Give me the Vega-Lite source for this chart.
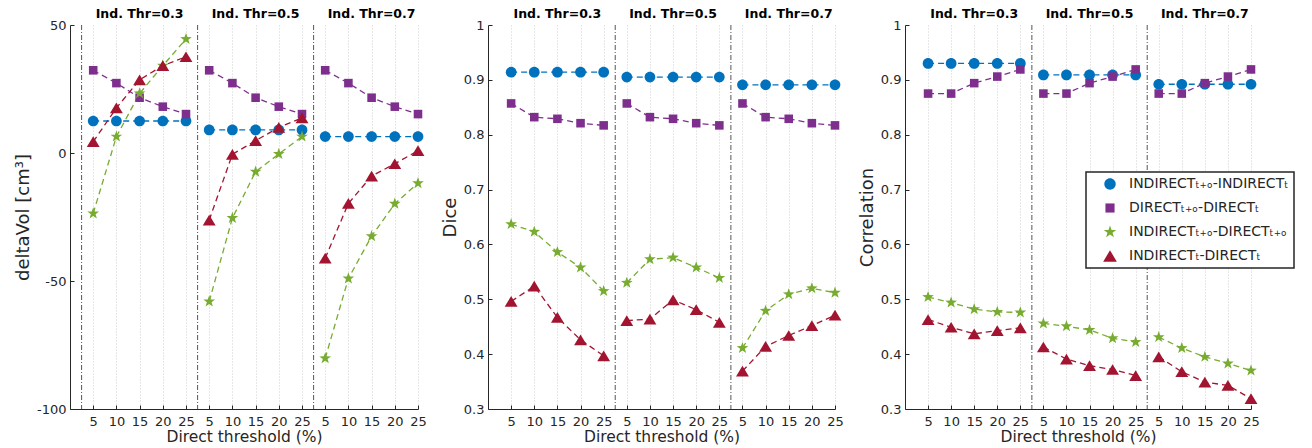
{
  "$schema": "https://vega.github.io/schema/vega-lite/v6.json",
  "padding": {"left": 14, "top": 8, "right": 5, "bottom": 2},
  "autosize": {"type": "pad"},
  "bounds": "flush",
  "spacing": 70,
  "resolve": {"legend": {"color": "independent", "shape": "independent", "stroke": "independent"}},
  "config": {
    "font": "DejaVu Sans",
    "view": {"stroke": null},
    "axis": {"labelColor": "#262626", "labelFontSize": 13, "titleColor": "#262626", "titleFontWeight": "normal", "domainColor": "#262626", "domainWidth": 1, "tickColor": "#262626", "tickSize": -4, "grid": true, "gridColor": "#dcdcdc", "labelOverlap": false, "labelFlush": false, "labelBound": false},
    "axisX": {"titleFontSize": 15.5, "gridDash": [1, 2], "gridColor": "#cfcfcf", "titlePadding": 1, "labelPadding": 10},
    "axisY": {"titleFontSize": 18, "titlePadding": 4, "labelPadding": 8},
    "legend": {"orient": "none", "legendX": 181, "legendY": 147, "fillColor": "white", "strokeColor": "#262626", "strokeWidth": 1.5, "padding": 5, "labelFontSize": 14, "labelColor": "#262626", "labelLimit": 400, "symbolSize": 130, "symbolOffset": 12, "labelOffset": 12, "rowPadding": 10, "title": null}
  },
  "datasets": {
    "groups": [
      {"t": "0.3", "label": "Ind. Thr=0.3"},
      {"t": "0.5", "label": "Ind. Thr=0.5"},
      {"t": "0.7", "label": "Ind. Thr=0.7"}
    ],
    "main": [
      {"m":"dv","t":"0.3","d":5,"s":"A","v":12.5},{"m":"dv","t":"0.3","d":10,"s":"A","v":12.5},{"m":"dv","t":"0.3","d":15,"s":"A","v":12.5},{"m":"dv","t":"0.3","d":20,"s":"A","v":12.5},{"m":"dv","t":"0.3","d":25,"s":"A","v":12.5},
      {"m":"dv","t":"0.3","d":5,"s":"B","v":32.3},{"m":"dv","t":"0.3","d":10,"s":"B","v":27.3},{"m":"dv","t":"0.3","d":15,"s":"B","v":21.6},{"m":"dv","t":"0.3","d":20,"s":"B","v":18.1},{"m":"dv","t":"0.3","d":25,"s":"B","v":15.2},
      {"m":"dv","t":"0.3","d":5,"s":"C","v":-23.6},{"m":"dv","t":"0.3","d":10,"s":"C","v":6.4},{"m":"dv","t":"0.3","d":15,"s":"C","v":23.3},{"m":"dv","t":"0.3","d":20,"s":"C","v":34.1},{"m":"dv","t":"0.3","d":25,"s":"C","v":44.5},
      {"m":"dv","t":"0.3","d":5,"s":"D","v":4.4},{"m":"dv","t":"0.3","d":10,"s":"D","v":17.6},{"m":"dv","t":"0.3","d":15,"s":"D","v":28.6},{"m":"dv","t":"0.3","d":20,"s":"D","v":34.1},{"m":"dv","t":"0.3","d":25,"s":"D","v":37.6},
      {"m":"dv","t":"0.5","d":5,"s":"A","v":9},{"m":"dv","t":"0.5","d":10,"s":"A","v":9},{"m":"dv","t":"0.5","d":15,"s":"A","v":9},{"m":"dv","t":"0.5","d":20,"s":"A","v":9},{"m":"dv","t":"0.5","d":25,"s":"A","v":9},
      {"m":"dv","t":"0.5","d":5,"s":"B","v":32.3},{"m":"dv","t":"0.5","d":10,"s":"B","v":27.3},{"m":"dv","t":"0.5","d":15,"s":"B","v":21.6},{"m":"dv","t":"0.5","d":20,"s":"B","v":18.1},{"m":"dv","t":"0.5","d":25,"s":"B","v":15.2},
      {"m":"dv","t":"0.5","d":5,"s":"C","v":-58},{"m":"dv","t":"0.5","d":10,"s":"C","v":-25.4},{"m":"dv","t":"0.5","d":15,"s":"C","v":-7.3},{"m":"dv","t":"0.5","d":20,"s":"C","v":-0.4},{"m":"dv","t":"0.5","d":25,"s":"C","v":6.4},
      {"m":"dv","t":"0.5","d":5,"s":"D","v":-26.2},{"m":"dv","t":"0.5","d":10,"s":"D","v":-0.5},{"m":"dv","t":"0.5","d":15,"s":"D","v":4.8},{"m":"dv","t":"0.5","d":20,"s":"D","v":10},{"m":"dv","t":"0.5","d":25,"s":"D","v":13.7},
      {"m":"dv","t":"0.7","d":5,"s":"A","v":6.4},{"m":"dv","t":"0.7","d":10,"s":"A","v":6.4},{"m":"dv","t":"0.7","d":15,"s":"A","v":6.4},{"m":"dv","t":"0.7","d":20,"s":"A","v":6.4},{"m":"dv","t":"0.7","d":25,"s":"A","v":6.4},
      {"m":"dv","t":"0.7","d":5,"s":"B","v":32.3},{"m":"dv","t":"0.7","d":10,"s":"B","v":27.3},{"m":"dv","t":"0.7","d":15,"s":"B","v":21.6},{"m":"dv","t":"0.7","d":20,"s":"B","v":18.1},{"m":"dv","t":"0.7","d":25,"s":"B","v":15.2},
      {"m":"dv","t":"0.7","d":5,"s":"C","v":-80.2},{"m":"dv","t":"0.7","d":10,"s":"C","v":-49},{"m":"dv","t":"0.7","d":15,"s":"C","v":-32.5},{"m":"dv","t":"0.7","d":20,"s":"C","v":-19.8},{"m":"dv","t":"0.7","d":25,"s":"C","v":-11.8},
      {"m":"dv","t":"0.7","d":5,"s":"D","v":-41.1},{"m":"dv","t":"0.7","d":10,"s":"D","v":-19.7},{"m":"dv","t":"0.7","d":15,"s":"D","v":-9},{"m":"dv","t":"0.7","d":20,"s":"D","v":-4.2},{"m":"dv","t":"0.7","d":25,"s":"D","v":0.9},

      {"m":"dice","t":"0.3","d":5,"s":"A","v":0.914},{"m":"dice","t":"0.3","d":10,"s":"A","v":0.914},{"m":"dice","t":"0.3","d":15,"s":"A","v":0.914},{"m":"dice","t":"0.3","d":20,"s":"A","v":0.914},{"m":"dice","t":"0.3","d":25,"s":"A","v":0.914},
      {"m":"dice","t":"0.3","d":5,"s":"B","v":0.857},{"m":"dice","t":"0.3","d":10,"s":"B","v":0.832},{"m":"dice","t":"0.3","d":15,"s":"B","v":0.829},{"m":"dice","t":"0.3","d":20,"s":"B","v":0.821},{"m":"dice","t":"0.3","d":25,"s":"B","v":0.817},
      {"m":"dice","t":"0.3","d":5,"s":"C","v":0.637},{"m":"dice","t":"0.3","d":10,"s":"C","v":0.623},{"m":"dice","t":"0.3","d":15,"s":"C","v":0.586},{"m":"dice","t":"0.3","d":20,"s":"C","v":0.558},{"m":"dice","t":"0.3","d":25,"s":"C","v":0.515},
      {"m":"dice","t":"0.3","d":5,"s":"D","v":0.496},{"m":"dice","t":"0.3","d":10,"s":"D","v":0.524},{"m":"dice","t":"0.3","d":15,"s":"D","v":0.467},{"m":"dice","t":"0.3","d":20,"s":"D","v":0.426},{"m":"dice","t":"0.3","d":25,"s":"D","v":0.397},
      {"m":"dice","t":"0.5","d":5,"s":"A","v":0.905},{"m":"dice","t":"0.5","d":10,"s":"A","v":0.905},{"m":"dice","t":"0.5","d":15,"s":"A","v":0.905},{"m":"dice","t":"0.5","d":20,"s":"A","v":0.905},{"m":"dice","t":"0.5","d":25,"s":"A","v":0.905},
      {"m":"dice","t":"0.5","d":5,"s":"B","v":0.857},{"m":"dice","t":"0.5","d":10,"s":"B","v":0.832},{"m":"dice","t":"0.5","d":15,"s":"B","v":0.829},{"m":"dice","t":"0.5","d":20,"s":"B","v":0.821},{"m":"dice","t":"0.5","d":25,"s":"B","v":0.817},
      {"m":"dice","t":"0.5","d":5,"s":"C","v":0.530},{"m":"dice","t":"0.5","d":10,"s":"C","v":0.573},{"m":"dice","t":"0.5","d":15,"s":"C","v":0.576},{"m":"dice","t":"0.5","d":20,"s":"C","v":0.558},{"m":"dice","t":"0.5","d":25,"s":"C","v":0.539},
      {"m":"dice","t":"0.5","d":5,"s":"D","v":0.461},{"m":"dice","t":"0.5","d":10,"s":"D","v":0.464},{"m":"dice","t":"0.5","d":15,"s":"D","v":0.499},{"m":"dice","t":"0.5","d":20,"s":"D","v":0.481},{"m":"dice","t":"0.5","d":25,"s":"D","v":0.458},
      {"m":"dice","t":"0.7","d":5,"s":"A","v":0.891},{"m":"dice","t":"0.7","d":10,"s":"A","v":0.891},{"m":"dice","t":"0.7","d":15,"s":"A","v":0.891},{"m":"dice","t":"0.7","d":20,"s":"A","v":0.891},{"m":"dice","t":"0.7","d":25,"s":"A","v":0.891},
      {"m":"dice","t":"0.7","d":5,"s":"B","v":0.857},{"m":"dice","t":"0.7","d":10,"s":"B","v":0.832},{"m":"dice","t":"0.7","d":15,"s":"B","v":0.829},{"m":"dice","t":"0.7","d":20,"s":"B","v":0.821},{"m":"dice","t":"0.7","d":25,"s":"B","v":0.817},
      {"m":"dice","t":"0.7","d":5,"s":"C","v":0.411},{"m":"dice","t":"0.7","d":10,"s":"C","v":0.479},{"m":"dice","t":"0.7","d":15,"s":"C","v":0.509},{"m":"dice","t":"0.7","d":20,"s":"C","v":0.520},{"m":"dice","t":"0.7","d":25,"s":"C","v":0.512},
      {"m":"dice","t":"0.7","d":5,"s":"D","v":0.369},{"m":"dice","t":"0.7","d":10,"s":"D","v":0.414},{"m":"dice","t":"0.7","d":15,"s":"D","v":0.434},{"m":"dice","t":"0.7","d":20,"s":"D","v":0.452},{"m":"dice","t":"0.7","d":25,"s":"D","v":0.471},

      {"m":"corr","t":"0.3","d":5,"s":"A","v":0.930},{"m":"corr","t":"0.3","d":10,"s":"A","v":0.930},{"m":"corr","t":"0.3","d":15,"s":"A","v":0.930},{"m":"corr","t":"0.3","d":20,"s":"A","v":0.930},{"m":"corr","t":"0.3","d":25,"s":"A","v":0.930},
      {"m":"corr","t":"0.3","d":5,"s":"B","v":0.875},{"m":"corr","t":"0.3","d":10,"s":"B","v":0.875},{"m":"corr","t":"0.3","d":15,"s":"B","v":0.894},{"m":"corr","t":"0.3","d":20,"s":"B","v":0.906},{"m":"corr","t":"0.3","d":25,"s":"B","v":0.919},
      {"m":"corr","t":"0.3","d":5,"s":"C","v":0.504},{"m":"corr","t":"0.3","d":10,"s":"C","v":0.494},{"m":"corr","t":"0.3","d":15,"s":"C","v":0.482},{"m":"corr","t":"0.3","d":20,"s":"C","v":0.477},{"m":"corr","t":"0.3","d":25,"s":"C","v":0.476},
      {"m":"corr","t":"0.3","d":5,"s":"D","v":0.463},{"m":"corr","t":"0.3","d":10,"s":"D","v":0.449},{"m":"corr","t":"0.3","d":15,"s":"D","v":0.437},{"m":"corr","t":"0.3","d":20,"s":"D","v":0.443},{"m":"corr","t":"0.3","d":25,"s":"D","v":0.448},
      {"m":"corr","t":"0.5","d":5,"s":"A","v":0.909},{"m":"corr","t":"0.5","d":10,"s":"A","v":0.909},{"m":"corr","t":"0.5","d":15,"s":"A","v":0.909},{"m":"corr","t":"0.5","d":20,"s":"A","v":0.909},{"m":"corr","t":"0.5","d":25,"s":"A","v":0.909},
      {"m":"corr","t":"0.5","d":5,"s":"B","v":0.875},{"m":"corr","t":"0.5","d":10,"s":"B","v":0.875},{"m":"corr","t":"0.5","d":15,"s":"B","v":0.894},{"m":"corr","t":"0.5","d":20,"s":"B","v":0.906},{"m":"corr","t":"0.5","d":25,"s":"B","v":0.919},
      {"m":"corr","t":"0.5","d":5,"s":"C","v":0.456},{"m":"corr","t":"0.5","d":10,"s":"C","v":0.451},{"m":"corr","t":"0.5","d":15,"s":"C","v":0.444},{"m":"corr","t":"0.5","d":20,"s":"C","v":0.429},{"m":"corr","t":"0.5","d":25,"s":"C","v":0.422},
      {"m":"corr","t":"0.5","d":5,"s":"D","v":0.413},{"m":"corr","t":"0.5","d":10,"s":"D","v":0.391},{"m":"corr","t":"0.5","d":15,"s":"D","v":0.379},{"m":"corr","t":"0.5","d":20,"s":"D","v":0.372},{"m":"corr","t":"0.5","d":25,"s":"D","v":0.361},
      {"m":"corr","t":"0.7","d":5,"s":"A","v":0.892},{"m":"corr","t":"0.7","d":10,"s":"A","v":0.892},{"m":"corr","t":"0.7","d":15,"s":"A","v":0.892},{"m":"corr","t":"0.7","d":20,"s":"A","v":0.892},{"m":"corr","t":"0.7","d":25,"s":"A","v":0.892},
      {"m":"corr","t":"0.7","d":5,"s":"B","v":0.875},{"m":"corr","t":"0.7","d":10,"s":"B","v":0.875},{"m":"corr","t":"0.7","d":15,"s":"B","v":0.894},{"m":"corr","t":"0.7","d":20,"s":"B","v":0.906},{"m":"corr","t":"0.7","d":25,"s":"B","v":0.919},
      {"m":"corr","t":"0.7","d":5,"s":"C","v":0.431},{"m":"corr","t":"0.7","d":10,"s":"C","v":0.411},{"m":"corr","t":"0.7","d":15,"s":"C","v":0.395},{"m":"corr","t":"0.7","d":20,"s":"C","v":0.383},{"m":"corr","t":"0.7","d":25,"s":"C","v":0.370},
      {"m":"corr","t":"0.7","d":5,"s":"D","v":0.395},{"m":"corr","t":"0.7","d":10,"s":"D","v":0.368},{"m":"corr","t":"0.7","d":15,"s":"D","v":0.349},{"m":"corr","t":"0.7","d":20,"s":"D","v":0.343},{"m":"corr","t":"0.7","d":25,"s":"D","v":0.319}
    ]
  },
  "hconcat": [
    {
      "width": 348, "height": 384,
      "resolve": {"axis": {"y": "independent"}},
      "encoding": {"x": {"field": "x", "type": "quantitative", "title": "Direct threshold (%)", "scale": {"domain": [0, 15], "nice": false, "zero": false}, "axis": {"values": [1,2,3,4,5,6,7,8,9,10,11,12,13,14,15], "labelOverlap": false, "labelExpr": "'' + (((datum.value - 1) % 5 + 1) * 5)"}}},
      "layer": [
        {"data": {"name": "groups"}, "transform": [{"calculate": "indexof(['0.3','0.5','0.7'], datum.t) * 5 + 0.5", "as": "x"}], "mark": {"type": "rule", "strokeDash": [5, 2, 1, 2], "color": "#555555", "strokeWidth": 1}, "encoding": {}},
        {"data": {"name": "groups"}, "transform": [{"calculate": "indexof(['0.3','0.5','0.7'], datum.t) * 5 + 3", "as": "x"}], "mark": {"type": "text", "fontWeight": "bold", "fontSize": 12.5, "dy": -11, "baseline": "middle", "color": "#000000"}, "encoding": {"y": {"datum": 50, "type": "quantitative", "axis": null}, "text": {"field": "label"}}},
        {"data": {"name": "main"}, "transform": [{"filter": "datum.m === 'dv'"}, {"calculate": "indexof(['0.3','0.5','0.7'], datum.t) * 5 + datum.d / 5", "as": "x"}],
          "mark": {"type": "line", "strokeDash": [6, 4], "strokeWidth": 1.3},
          "encoding": {
            "y": {"field": "v", "type": "quantitative", "title": "deltaVol [cm³]", "scale": {"domain": [-100, 50], "nice": false, "zero": false},
              "axis": {"values": [-100, -50, 0, 50], "labelExpr": "'' + datum.value", "gridColor": "#dcdcdc"}},
            "stroke": {"field": "s", "type": "nominal", "scale": {"domain": ["A","B","C","D"], "range": ["#0072BD","#7E2F8E","#77AC30","#A2142F"]}, "legend": null},
            "detail": {"field": "t"}
          }
        },
        {"data": {"name": "main"}, "transform": [{"filter": "datum.m === 'dv'"}, {"calculate": "indexof(['0.3','0.5','0.7'], datum.t) * 5 + datum.d / 5", "as": "x"}],
          "mark": {"type": "point", "filled": true, "opacity": 1, "size": 115, "strokeWidth": 0},
          "encoding": {
            "y": {"field": "v", "type": "quantitative", "title": null, "scale": {"domain": [-100, 50], "nice": false, "zero": false},
              "axis": {"orient": "right", "values": [-90,-80,-70,-60,-40,-30,-20,-10,10,20,30,40], "labels": false, "ticks": false, "domain": false, "gridDash": [1, 2], "gridColor": "#cccccc"}},
            "color": {"field": "s", "type": "nominal", "scale": {"domain": ["A","B","C","D"], "range": ["#0072BD","#7E2F8E","#77AC30","#A2142F"]}, "legend": null},
            "shape": {"field": "s", "type": "nominal", "legend": null, "scale": {"domain": ["A","B","C","D"], "range": ["M1,0A1,1,0,1,1,-1,0A1,1,0,1,1,1,0Z", "M-0.8,-0.8H0.8V0.8H-0.8Z", "M0,-1.15L0.27,-0.37L1.09,-0.36L0.44,0.14L0.68,0.93L0,0.46L-0.68,0.93L-0.44,0.14L-1.09,-0.36L-0.27,-0.37Z", "M0,-1L1.2,1H-1.2Z"]}}
          }
        }
      ]
    },
    {
      "width": 347, "height": 384,
      "resolve": {"axis": {"y": "independent"}},
      "encoding": {"x": {"field": "x", "type": "quantitative", "title": "Direct threshold (%)", "scale": {"domain": [0, 15], "nice": false, "zero": false}, "axis": {"values": [1,2,3,4,5,6,7,8,9,10,11,12,13,14,15], "labelOverlap": false, "labelExpr": "'' + (((datum.value - 1) % 5 + 1) * 5)"}}},
      "layer": [
        {"data": {"name": "groups"}, "transform": [{"calculate": "indexof(['0.3','0.5','0.7'], datum.t) * 5 + 0.5", "as": "x"}, {"filter": "datum.x > 1"}], "mark": {"type": "rule", "strokeDash": [5, 2, 1, 2], "color": "#555555", "strokeWidth": 1}, "encoding": {}},
        {"data": {"name": "groups"}, "transform": [{"calculate": "indexof(['0.3','0.5','0.7'], datum.t) * 5 + 3", "as": "x"}], "mark": {"type": "text", "fontWeight": "bold", "fontSize": 12.5, "dy": -11, "baseline": "middle", "color": "#000000"}, "encoding": {"y": {"datum": 1, "type": "quantitative", "axis": null}, "text": {"field": "label"}}},
        {"data": {"name": "main"}, "transform": [{"filter": "datum.m === 'dice'"}, {"calculate": "indexof(['0.3','0.5','0.7'], datum.t) * 5 + datum.d / 5", "as": "x"}],
          "mark": {"type": "line", "strokeDash": [6, 4], "strokeWidth": 1.3},
          "encoding": {
            "y": {"field": "v", "type": "quantitative", "title": "Dice", "scale": {"domain": [0.3, 1], "nice": false, "zero": false},
              "axis": {"values": [0.3, 0.4, 0.5, 0.6, 0.7, 0.8, 0.9, 1], "labelExpr": "format(datum.value, '.1~f')", "gridColor": "#dcdcdc"}},
            "stroke": {"field": "s", "type": "nominal", "scale": {"domain": ["A","B","C","D"], "range": ["#0072BD","#7E2F8E","#77AC30","#A2142F"]}, "legend": null},
            "detail": {"field": "t"}
          }
        },
        {"data": {"name": "main"}, "transform": [{"filter": "datum.m === 'dice'"}, {"calculate": "indexof(['0.3','0.5','0.7'], datum.t) * 5 + datum.d / 5", "as": "x"}],
          "mark": {"type": "point", "filled": true, "opacity": 1, "size": 115, "strokeWidth": 0},
          "encoding": {
            "y": {"field": "v", "type": "quantitative", "title": null, "scale": {"domain": [0.3, 1], "nice": false, "zero": false},
              "axis": {"orient": "right", "values": [0.32,0.34,0.36,0.38,0.42,0.44,0.46,0.48,0.52,0.54,0.56,0.58,0.62,0.64,0.66,0.68,0.72,0.74,0.76,0.78,0.82,0.84,0.86,0.88,0.92,0.94,0.96,0.98], "labels": false, "ticks": false, "domain": false, "gridDash": [1, 2], "gridColor": "#cccccc"}},
            "color": {"field": "s", "type": "nominal", "scale": {"domain": ["A","B","C","D"], "range": ["#0072BD","#7E2F8E","#77AC30","#A2142F"]}, "legend": null},
            "shape": {"field": "s", "type": "nominal", "legend": null, "scale": {"domain": ["A","B","C","D"], "range": ["M1,0A1,1,0,1,1,-1,0A1,1,0,1,1,1,0Z", "M-0.8,-0.8H0.8V0.8H-0.8Z", "M0,-1.15L0.27,-0.37L1.09,-0.36L0.44,0.14L0.68,0.93L0,0.46L-0.68,0.93L-0.44,0.14L-1.09,-0.36L-0.27,-0.37Z", "M0,-1L1.2,1H-1.2Z"]}}
          }
        }
      ]
    },
    {
      "width": 346, "height": 384,
      "resolve": {"axis": {"y": "independent"}},
      "encoding": {"x": {"field": "x", "type": "quantitative", "title": "Direct threshold (%)", "scale": {"domain": [0, 15], "nice": false, "zero": false}, "axis": {"values": [1,2,3,4,5,6,7,8,9,10,11,12,13,14,15], "labelOverlap": false, "labelExpr": "'' + (((datum.value - 1) % 5 + 1) * 5)"}}},
      "layer": [
        {"data": {"name": "groups"}, "transform": [{"calculate": "indexof(['0.3','0.5','0.7'], datum.t) * 5 + 0.5", "as": "x"}, {"filter": "datum.x > 1"}], "mark": {"type": "rule", "strokeDash": [5, 2, 1, 2], "color": "#555555", "strokeWidth": 1}, "encoding": {}},
        {"data": {"name": "groups"}, "transform": [{"calculate": "indexof(['0.3','0.5','0.7'], datum.t) * 5 + 3", "as": "x"}], "mark": {"type": "text", "fontWeight": "bold", "fontSize": 12.5, "dy": -11, "baseline": "middle", "color": "#000000"}, "encoding": {"y": {"datum": 1, "type": "quantitative", "axis": null}, "text": {"field": "label"}}},
        {"data": {"name": "main"}, "transform": [{"filter": "datum.m === 'corr'"}, {"calculate": "indexof(['0.3','0.5','0.7'], datum.t) * 5 + datum.d / 5", "as": "x"}, {"calculate": "{'A':'#0072BD','B':'#7E2F8E','C':'#77AC30','D':'#A2142F'}[datum.s]", "as": "col"}],
          "mark": {"type": "line", "strokeDash": [6, 4], "strokeWidth": 1.3},
          "encoding": {
            "y": {"field": "v", "type": "quantitative", "title": "Correlation", "scale": {"domain": [0.3, 1], "nice": false, "zero": false},
              "axis": {"values": [0.3, 0.4, 0.5, 0.6, 0.7, 0.8, 0.9, 1], "labelExpr": "format(datum.value, '.1~f')", "gridColor": "#dcdcdc"}},
            "stroke": {"field": "col", "type": "nominal", "scale": null},
            "detail": {"field": "t"}
          }
        },
        {"data": {"name": "main"}, "transform": [{"filter": "datum.m === 'corr'"}, {"calculate": "indexof(['0.3','0.5','0.7'], datum.t) * 5 + datum.d / 5", "as": "x"}],
          "mark": {"type": "point", "filled": true, "opacity": 1, "size": 115, "strokeWidth": 0},
          "encoding": {
            "y": {"field": "v", "type": "quantitative", "title": null, "scale": {"domain": [0.3, 1], "nice": false, "zero": false},
              "axis": {"orient": "right", "values": [0.32,0.34,0.36,0.38,0.42,0.44,0.46,0.48,0.52,0.54,0.56,0.58,0.62,0.64,0.66,0.68,0.72,0.74,0.76,0.78,0.82,0.84,0.86,0.88,0.92,0.94,0.96,0.98], "labels": false, "ticks": false, "domain": false, "gridDash": [1, 2], "gridColor": "#cccccc"}},
            "color": {"field": "s", "type": "nominal", "scale": {"domain": ["A","B","C","D"], "range": ["#0072BD","#7E2F8E","#77AC30","#A2142F"]},
              "legend": {"labelExpr": "{'A':'INDIRECTₜ₊ₒ-INDIRECTₜ','B':'DIRECTₜ₊ₒ-DIRECTₜ','C':'INDIRECTₜ₊ₒ-DIRECTₜ₊ₒ','D':'INDIRECTₜ-DIRECTₜ'}[datum.value]"}},
            "shape": {"field": "s", "type": "nominal", "scale": {"domain": ["A","B","C","D"], "range": ["M1,0A1,1,0,1,1,-1,0A1,1,0,1,1,1,0Z", "M-0.8,-0.8H0.8V0.8H-0.8Z", "M0,-1.15L0.27,-0.37L1.09,-0.36L0.44,0.14L0.68,0.93L0,0.46L-0.68,0.93L-0.44,0.14L-1.09,-0.36L-0.27,-0.37Z", "M0,-1L1.2,1H-1.2Z"]},
              "legend": {"labelExpr": "{'A':'INDIRECTₜ₊ₒ-INDIRECTₜ','B':'DIRECTₜ₊ₒ-DIRECTₜ','C':'INDIRECTₜ₊ₒ-DIRECTₜ₊ₒ','D':'INDIRECTₜ-DIRECTₜ'}[datum.value]"}}
          }
        }
      ]
    }
  ]
}
